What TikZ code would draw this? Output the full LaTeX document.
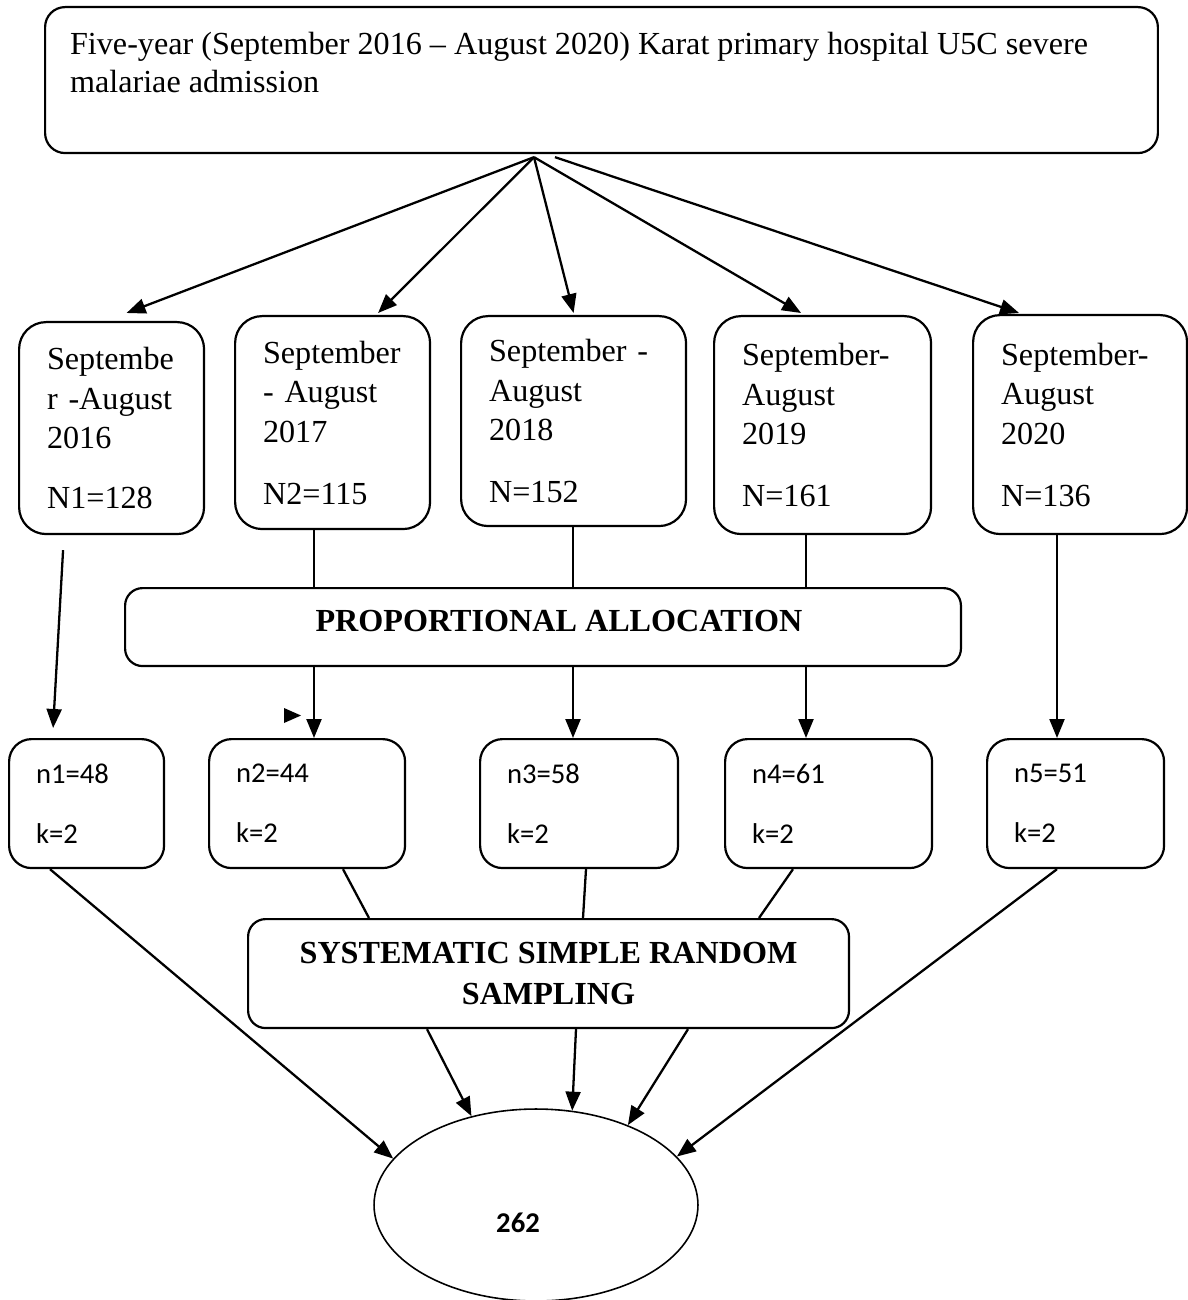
\documentclass[tikz,border=0pt]{standalone}
\usepackage{fontspec}
\setmainfont{Liberation Serif}
\newfontfamily\calibri{Carlito}
\usetikzlibrary{arrows.meta,positioning,calc,shapes}

\tikzset{
  yearbox/.style={draw, line width=1.25pt, rounded corners=0.54cm, anchor=north west, align=left, inner xsep=0.56cm, inner ysep=0pt, font=\fontsize{18.3pt}{0.79cm}\selectfont},
  samplebox/.style={draw, line width=1.25pt, rounded corners=0.45cm, anchor=north west, align=left, inner xsep=0.54cm, inner ysep=0pt, minimum height=2.58cm, font=\calibri\fontsize{16.3pt}{1.2cm}\selectfont},
  stagebox/.style={draw, line width=1.25pt, rounded corners=0.35cm, anchor=north west, inner sep=0pt, font=\bfseries\fontsize{18.3pt}{0.82cm}\selectfont},
  arr/.style={line width=1.3pt, -{Triangle[length=0.38cm,width=0.3cm]}},
  link/.style={line width=1.3pt}
}

\begin{document}
\begin{tikzpicture}[x=0.02cm, y=0.02cm]

      \useasboundingbox (0,0) rectangle (1187,-1300);

      \node[draw, line width=1.25pt, rounded corners=0.4cm, anchor=north west, inner xsep=0.5cm, inner ysep=0pt, font=\fontsize{18.3pt}{0.76cm}\selectfont] at (44,-6) (top)
        {\begin{minipage}[c][2.92cm][t]{21.26cm}\raggedright\vspace*{0.5cm}Five-year (September 2016 -- August 2020) Karat primary hospital U5C severe\\malariae admission\end{minipage}};

      \coordinate (apex)  at ([shift={(-67.5,-3)}]top.south);
      \coordinate (apex2) at ([shift={(-46.5,-3)}]top.south);

      \node[yearbox, text width=2.58cm, minimum height=4.24cm] at (18,-321)  (b1) {Septembe\\r -August\\2016\\[0.4cm]N1=128};
      \node[yearbox, text width=2.78cm, minimum height=4.26cm] at (234,-315) (b2) {September\\- August\\2017\\[0.45cm]N2=115};
      \node[yearbox, text width=3.38cm, minimum height=4.2cm]  at (460,-315) (b3) {September -\\August\\2018\\[0.45cm]N=152};
      \node[yearbox, text width=3.22cm, minimum height=4.36cm] at (713,-315) (b4) {September-\\August\\2019\\[0.45cm]N=161};
      \node[yearbox, text width=3.16cm, minimum height=4.38cm] at (972,-314) (b5) {September-\\August\\2020\\[0.45cm]N=136};

      \draw[arr] (apex)  -- ([shift={(15,8)}]b1.north);
      \draw[arr] (apex)  -- ([shift={(45.5,2)}]b2.north);
      \draw[arr] (apex)  -- ([shift={(0,2)}]b3.north);
      \draw[arr] (apex)  -- ([shift={(-21.5,2)}]b4.north);
      \draw[arr] (apex2) -- ([shift={(-61,1)}]b5.north);

      \node[stagebox, minimum width=16.72cm, minimum height=1.56cm, text depth=0.24cm] at (124,-587) (pa) {\hspace*{0.64cm}PROPORTIONAL ALLOCATION};

      \node[samplebox, text width=2.02cm] at (8,-738)   (c1) {n1=48\\k=2};
      \node[samplebox, text width=2.84cm] at (208,-738) (c2) {n2=44\\k=2};
      \node[samplebox, text width=2.88cm] at (479,-738) (c3) {n3=58\\k=2};
      \node[samplebox, text width=3.06cm] at (724,-738) (c4) {n4=61\\k=2};
      \node[samplebox, text width=2.46cm] at (986,-738) (c5) {n5=51\\k=2};

      \draw[link] (b2.south -| 314,0) -- (pa.north -| 314,0);
      \draw[link] (b3.south -| 573,0) -- (pa.north -| 573,0);
      \draw[link] (b4.south -| 806,0) -- (pa.north -| 806,0);
      \draw[arr] (pa.south -| 314,0) -- (c2.north -| 314,0);
      \draw[arr] (pa.south -| 573,0) -- (c3.north -| 573,0);
      \draw[arr] (pa.south -| 806,0) -- (c4.north -| 806,0);
      \draw[arr] ([shift={(-48.5,-15)}]b1.south) -- ([shift={(-33.5,10)}]c1.north);
      \draw[arr] (b5.south -| 1057,0) -- (c5.north -| 1057,0);

      \fill (284,-708) -- (301,-715.5) -- (284,-723) -- cycle;

      \node[stagebox, align=center, minimum width=12.02cm, minimum height=2.18cm] at (247,-918) (ssrs) {SYSTEMATIC SIMPLE RANDOM\\SAMPLING};

      \node[draw, ellipse, line width=0.9pt, minimum width=6.48cm, minimum height=3.84cm, inner sep=0pt] at (536,-1205) (total) {};
      \node[font=\calibri\bfseries\fontsize{16.3pt}{16pt}\selectfont] at (518,-1223) (totalnum) {262};

      \draw[link] (c2.south -| 343,0) -- (ssrs.north -| 369,0);
      \draw[link] (c3.south -| 586,0) -- (ssrs.north -| 583,0);
      \draw[link] (c4.south -| 793,0) -- (ssrs.north -| 759,0);

      \draw[arr] (c1.south -| 50,0)     -- (total.162);
      \draw[arr] (ssrs.south -| 427,0)  -- (total.126);
      \draw[arr] (ssrs.south -| 576,0)  -- (total.69);
      \draw[arr] (ssrs.south -| 688,0)  -- (total.41);
      \draw[arr] (c5.south -| 1057,0)   -- (total.19);

\end{tikzpicture}
\end{document}
